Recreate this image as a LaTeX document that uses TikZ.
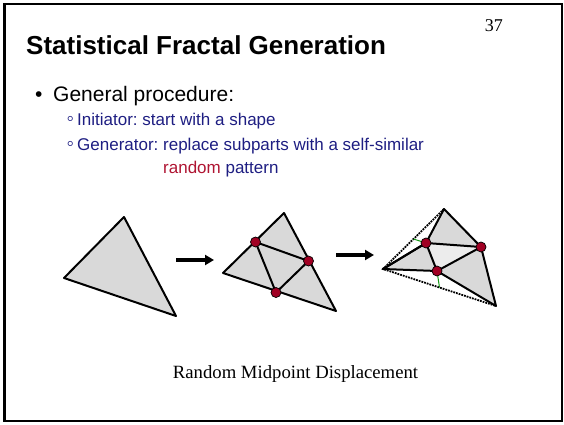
\documentclass[tikz,border=0pt]{standalone}
\usepackage{fontspec}
\setmainfont{Liberation Sans}
\newfontfamily\serifface{Liberation Serif}
\usetikzlibrary{arrows.meta,calc}
\definecolor{navytext}{RGB}{30,30,130}
\definecolor{redtext}{RGB}{175,20,50}
\definecolor{dotred}{RGB}{160,0,35}
\definecolor{trigray}{RGB}{217,217,217}
\definecolor{trilight}{RGB}{236,236,236}
\definecolor{ticgreen}{RGB}{20,150,20}
\frenchspacing
\tikzset{
  txt/.style={inner sep=0pt,anchor=base west},
  tri/.style={draw=black,line width=2pt,fill=trigray,line join=round},
  edge/.style={draw=black,line width=2pt},
  midpt/.style={circle,draw=black,line width=0.7pt,fill=dotred,minimum size=10pt,inner sep=0pt},
  step arrow/.style={line width=3.6pt,-{Triangle[length=9pt,width=10pt]}}
}
\begin{document}
\begin{tikzpicture}[x=1pt,y=-1pt]
\useasboundingbox (0,0) rectangle (564,425);
\draw[line width=2.6pt] (4.5,4) rectangle (562,421);

% heading
\node[txt] (title) at (26,55) {\fontsize{26}{30}\selectfont\bfseries Statistical Fractal Generation};
\node[inner sep=0pt,anchor=base east] (pagenum) at (503,32) {\serifface\fontsize{18}{22}\selectfont 37};

% bullets
\node[txt] (dot1) at (35,102) {\fontsize{21}{25}\selectfont •};
\node[txt] (item1) at (53,102) {\fontsize{21}{25}\selectfont General procedure:};
\node[txt,text=navytext] (dot2) at (66.5,125) {\fontsize{21}{20}\selectfont ◦};
\node[txt,text=navytext] (item2) at (77,125) {\fontsize{17}{20}\selectfont Initiator: start with a shape};
\node[txt,text=navytext] (dot3) at (66.5,150) {\fontsize{21}{20}\selectfont ◦};
\node[txt,text=navytext] (item3) at (77,150) {\fontsize{17}{20}\selectfont Generator: replace subparts with a self-similar};
\node[txt,text=navytext] (item4) at (163,173) {\fontsize{17}{20}\selectfont \textcolor{redtext}{random} pattern};

% initiator
\coordinate (a1) at (64,278);
\coordinate (a2) at (124,217);
\coordinate (a3) at (176,316);
\draw[tri] (a1) -- (a2) -- (a3) -- cycle;

% first generation
\coordinate (b1) at (223,273);
\coordinate (b2) at (284,213);
\coordinate (b3) at (336,311);
\coordinate (m1) at (255.5,242);
\coordinate (m2) at (308.5,261);
\coordinate (m3) at (276,292.5);
\draw[tri] (b1) -- (b2) -- (b3) -- cycle;
\draw[edge] (m1) -- (m2) -- (m3) -- cycle;
\node[midpt] (n1) at (m1) {};
\node[midpt] (n2) at (m2) {};
\node[midpt] (n3) at (m3) {};

% displaced
\coordinate (c1) at (383,269);
\coordinate (c2) at (444,209);
\coordinate (c3) at (496,306);
\coordinate (p1) at (426,243);
\coordinate (p2) at (481,247);
\coordinate (p3) at (437,271);
\draw[densely dotted,line width=1.8pt] (c2) -- (c1) -- (c3);
\draw[ticgreen,line width=1pt] (p1) -- ($(c1)!0.5!(c2)$);
\draw[ticgreen,line width=1pt] (p3) -- ($(c1)!0.5!(c3)$);
\draw[tri] (c1) -- (p1) -- (c2) -- (p2) -- (c3) -- (p3) -- cycle;
\draw[edge,fill=trilight] (p1) -- (p2) -- (p3) -- cycle;
\draw[edge] (c1) -- (p1);
\node[midpt] (q1) at (p1) {};
\node[midpt] (q2) at (p2) {};
\node[midpt] (q3) at (p3) {};

% arrows
\coordinate (s1) at (176,260);
\coordinate (e1) at (214,260);
\coordinate (s2) at (336,255);
\coordinate (e2) at (374,255);
\draw[step arrow] (s1) -- (e1);
\draw[step arrow] (s2) -- (e2);

\node[inner sep=0pt,anchor=base] (caption) at (295.5,378) {\serifface\fontsize{18.7}{22}\selectfont Random Midpoint Displacement};
\end{tikzpicture}
\end{document}
